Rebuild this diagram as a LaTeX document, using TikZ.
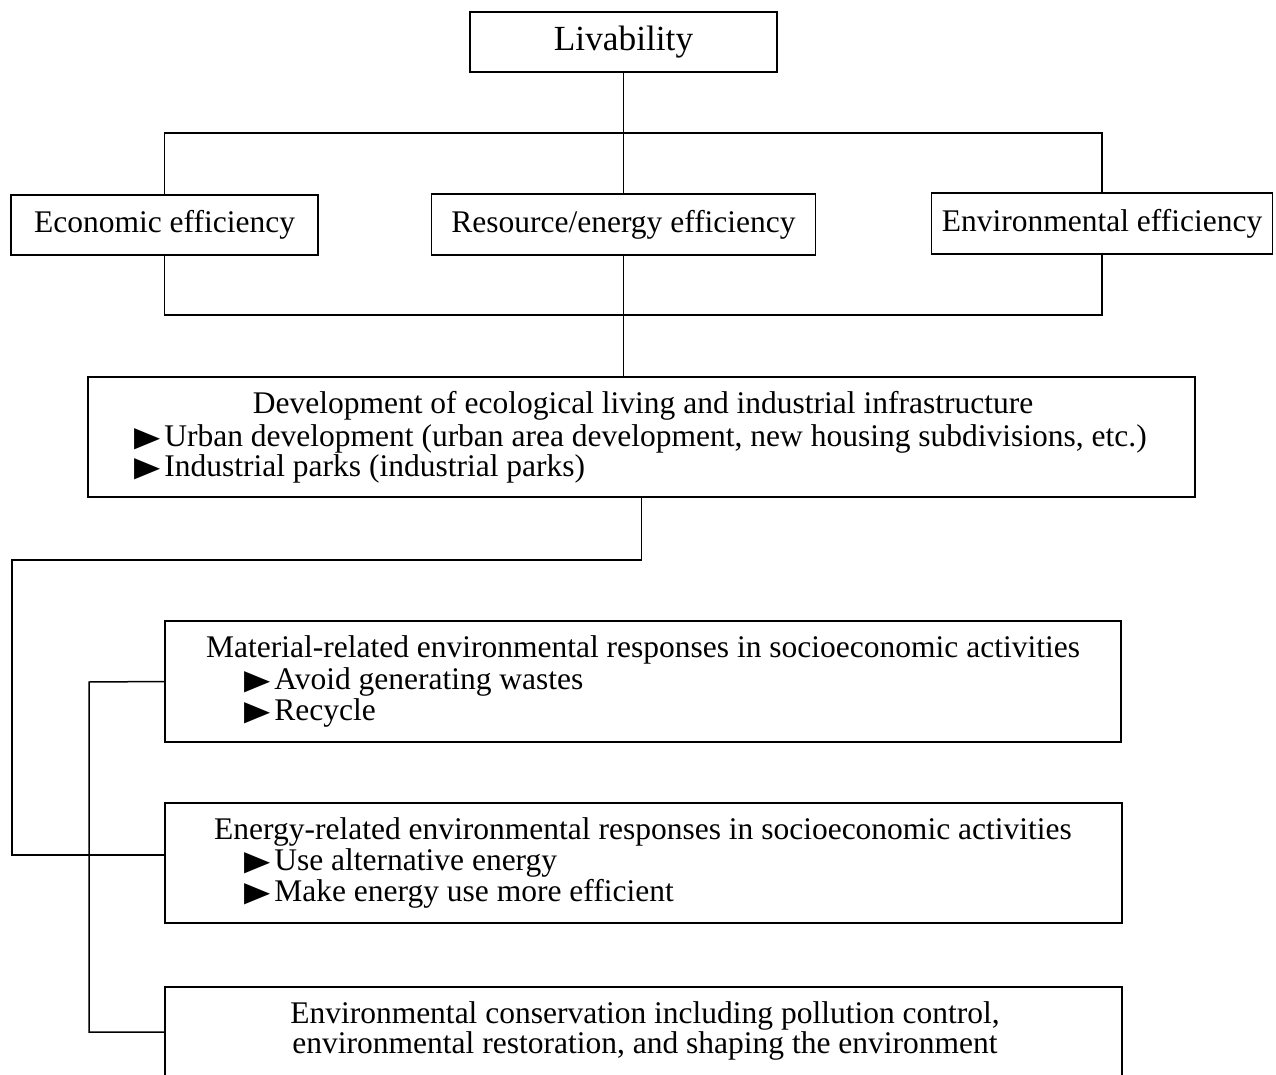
\documentclass[tikz,border=0pt]{standalone}
\usepackage{fontspec}
\usepackage{graphicx}
\setmainfont{Liberation Serif}
\newfontfamily\symfont{DejaVu Sans}
\newcommand\tri{\scalebox{1}[0.82]{\symfont\fontsize{34}{34}\selectfont ▶}\hspace{4pt}}
\begin{document}
\begin{tikzpicture}[x=1pt,y=-1pt,
  box/.style={draw, line width=1.5pt, inner sep=0pt, font=\fontsize{31.5}{32}\selectfont},
  txt/.style={inner sep=0pt, font=\fontsize{31.5}{32}\selectfont},
  conn/.style={line width=1.5pt}]
\fill[white] (0,0) rectangle (1276,1075);
\clip (0,0) rectangle (1276,1075);
% top level
\node[box, minimum width=307pt, minimum height=60pt, font=\fontsize{35.3}{40}\selectfont] (liv) at (623.5,42) {Livability};
\node[box, minimum width=307pt, minimum height=60pt] (eco) at (164.5,225) {Economic efficiency};
\node[box, minimum width=384pt, minimum height=61pt] (res) at (623.5,224.5) {Resource/energy efficiency};
\node[box, minimum width=341pt, minimum height=61pt] (env) at (1102,223.5) {Environmental efficiency};
% development box
\node[box, minimum width=1107pt, minimum height=120pt] (dev) at (641.5,437) {};
\node[txt, anchor=base] (dev1) at (643,413) {Development of ecological living and industrial infrastructure};
\node[txt, anchor=base west] (dev2) at (134,446) {\tri Urban development (urban area development, new housing subdivisions, etc.)};
\node[txt, anchor=base west] (dev3) at (134,476) {\tri Industrial parks (industrial parks)};
% material box
\node[box, minimum width=956pt, minimum height=121pt] (mat) at (643,681.5) {};
\node[txt, anchor=base] (mat1) at (643,657) {Material-related environmental responses in socioeconomic activities};
\node[txt, anchor=base west] (mat2) at (244,689) {\tri Avoid generating wastes};
\node[txt, anchor=base west] (mat3) at (244,720) {\tri Recycle};
% energy box
\node[box, minimum width=957pt, minimum height=120pt] (ene) at (643.5,863) {};
\node[txt, anchor=base] (ene1) at (643,839) {Energy-related environmental responses in socioeconomic activities};
\node[txt, anchor=base west] (ene2) at (244,870) {\tri Use alternative energy};
\node[txt, anchor=base west] (ene3) at (244,901) {\tri Make energy use more efficient};
% conservation box (continues below the page)
\node[box, minimum width=957pt, minimum height=120pt] (con) at (643.5,1047) {};
\node[txt, anchor=base] (con1) at (645,1023) {Environmental conservation including pollution control,};
\node[txt, anchor=base] (con2) at (645,1053) {environmental restoration, and shaping the environment};
% connectors
\coordinate (topbar) at (623.5,133);
\coordinate (botbar) at (623.5,315);
\draw[conn] (liv.south) -- (res.north);
\draw[conn] (eco.north) |- (topbar) -| (env.north);
\draw[conn] (eco.south) |- (botbar) -| (env.south);
\draw[conn] (res.south) -- (res.south |- dev.north);
\coordinate (turn) at (12,560);
\draw[conn] (dev.south) |- (turn) |- ([yshift=8pt]ene.west);
\coordinate (brk) at (89,682);
\draw[conn] (mat.west) -- (brk) |- ([yshift=15pt]con.west);
\end{tikzpicture}
\end{document}
